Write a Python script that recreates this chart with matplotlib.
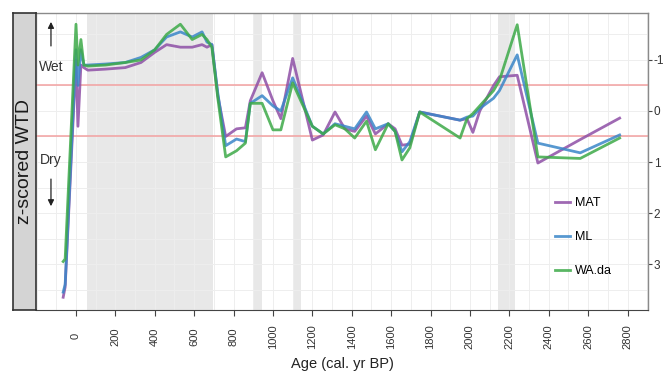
import numpy as np
import matplotlib
matplotlib.use("Agg")
import matplotlib.pyplot as plt
from matplotlib.ticker import MultipleLocator

plt.rcParams["axes.unicode_minus"] = False
plt.rcParams["font.family"] = ["Liberation Sans", "DejaVu Sans"]

ages = [-65, -55, 0, 10, 25, 40, 60, 150, 250, 330, 400, 460, 530, 590, 640, 665,
        690, 720, 760, 815, 860, 885, 945, 1000, 1040, 1100, 1200, 1255, 1315, 1365,
        1415, 1475, 1520, 1585, 1620, 1655, 1695, 1745, 1950, 1985, 2015, 2050, 2120,
        2150, 2240, 2345, 2560, 2760]

mat = [3.65, 3.45, -1.0, 0.3, -0.9, -0.85, -0.8, -0.82, -0.85, -0.95, -1.15, -1.3,
       -1.25, -1.25, -1.3, -1.25, -1.3, -0.3, 0.5, 0.35, 0.33, -0.2, -0.75, -0.2,
       0.15, -1.03, 0.57, 0.47, 0.02, 0.35, 0.4, 0.1, 0.45, 0.25, 0.35, 0.67, 0.65,
       0.02, 0.18, 0.15, 0.42, 0.0, -0.5, -0.67, -0.7, 1.02, 0.56, 0.14]

ml = [3.55, 3.4, -1.2, -0.5, -1.2, -0.9, -0.9, -0.92, -0.95, -1.05, -1.2, -1.45,
      -1.55, -1.45, -1.55, -1.35, -1.3, -0.35, 0.68, 0.55, 0.6, -0.15, -0.3, -0.1,
      0.0, -0.65, 0.3, 0.45, 0.25, 0.3, 0.35, 0.02, 0.35, 0.25, 0.4, 0.8, 0.6,
      0.02, 0.18, 0.12, 0.1, -0.05, -0.25, -0.4, -1.1, 0.63, 0.82, 0.47]

wada = [2.95, 2.9, -1.7, -0.9, -1.4, -0.9, -0.88, -0.9, -0.95, -1.0, -1.2, -1.5,
        -1.7, -1.4, -1.5, -1.4, -1.25, -0.25, 0.9, 0.78, 0.63, -0.15, -0.15, 0.37,
        0.37, -0.55, 0.3, 0.45, 0.27, 0.35, 0.53, 0.2, 0.76, 0.25, 0.4, 0.96, 0.72,
        0.02, 0.53, 0.15, 0.05, -0.1, -0.4, -0.6, -1.69, 0.9, 0.93, 0.53]

# shaded intervals (cal. yr BP)
span_start = [56, 900, 1100, 2140]
span_end = [695, 945, 1140, 2230]

thresholds = [-0.5, 0.5]
series_names = ["MAT", "ML", "WA.da"]
series_colors = ["#8E4FA6", "#3A86C8", "#3DAA48"]

fig = plt.figure(figsize=(6.64, 3.83), dpi=100)
W, H = 664, 383
left, right, top, bottom = 36, 648, 13, 310
ax = fig.add_axes([left / W, 1 - bottom / H, (right - left) / W, (bottom - top) / H])

for s, e in zip(span_start, span_end):
    ax.axvspan(s, e, color="#E8E8E8", lw=0, zorder=0)

ax.xaxis.set_major_locator(MultipleLocator(200))
ax.xaxis.set_minor_locator(MultipleLocator(100))
ax.yaxis.set_major_locator(MultipleLocator(1))
ax.yaxis.set_minor_locator(MultipleLocator(0.5))
ax.grid(which="both", color="#EEEEEE", lw=0.7, zorder=0.5)
ax.set_axisbelow(True)

for t in thresholds:
    ax.axhline(t, color="#F2A0A0", lw=1.1, zorder=1)

for vals, name, col in zip([mat, ml, wada], series_names, series_colors):
    ax.plot(ages, vals, color=col, lw=2, alpha=0.85, label=name, zorder=3)

ax.set_xlim(-203, 2904)
ax.set_ylim(3.9, -1.92)

ax.set_xticks(np.arange(0, 2801, 200))
ax.set_xticklabels([str(v) for v in range(0, 2801, 200)], rotation=90, fontsize=8,
                   va="center", ha="center")
ax.tick_params(axis="x", which="major", length=4, pad=15, color="#444444", labelcolor="#333333")
ax.tick_params(axis="both", which="minor", length=0)

ax.yaxis.tick_right()
ax.set_yticks([-1, 0, 1, 2, 3])
ax.set_yticklabels(["-1", "0", "1", "2", "3"], fontsize=8.5)
ax.tick_params(axis="y", which="major", length=3, pad=1, color="#444444", labelcolor="#333333")

for sp in ["top", "right"]:
    ax.spines[sp].set_color("#8A8A8A")
    ax.spines[sp].set_linewidth(1.0)
ax.spines["bottom"].set_color("#444444")
ax.spines["left"].set_visible(False)

ax.set_xlabel("Age (cal. yr BP)", fontsize=10.5, labelpad=6, color="#222222")

# wet / dry direction hints
ax.text(-127, -0.86, "Wet", fontsize=10, ha="center", va="center", color="#333333")
ax.annotate("", xy=(-127, -1.8), xytext=(-127, -1.22),
            arrowprops=dict(arrowstyle="-|>", color="#222222", lw=0.9, mutation_scale=9))
ax.text(-127, 0.96, "Dry", fontsize=10, ha="center", va="center", color="#333333")
ax.annotate("", xy=(-127, 1.92), xytext=(-127, 1.28),
            arrowprops=dict(arrowstyle="-|>", color="#222222", lw=0.9, mutation_scale=9))

leg = ax.legend(loc="upper left", bbox_to_anchor=(0.848, 0.38), frameon=False,
                fontsize=9, labelspacing=1.75, handlelength=1.2, handletextpad=0.4,
                borderpad=0, borderaxespad=0)

# facet strip on the left
strip = fig.add_axes([13 / W, 1 - bottom / H, (left - 13) / W, (bottom - top) / H])
strip.set_facecolor("#D4D4D4")
strip.set_xticks([])
strip.set_yticks([])
for sp in strip.spines.values():
    sp.set_color("#333333")
    sp.set_linewidth(1.2)
strip.text(0.5, 0.5, "z-scored WTD", rotation=90, ha="center", va="center",
           fontsize=14, color="#1A1A1A", transform=strip.transAxes)

fig.savefig("out.png", dpi=100)
